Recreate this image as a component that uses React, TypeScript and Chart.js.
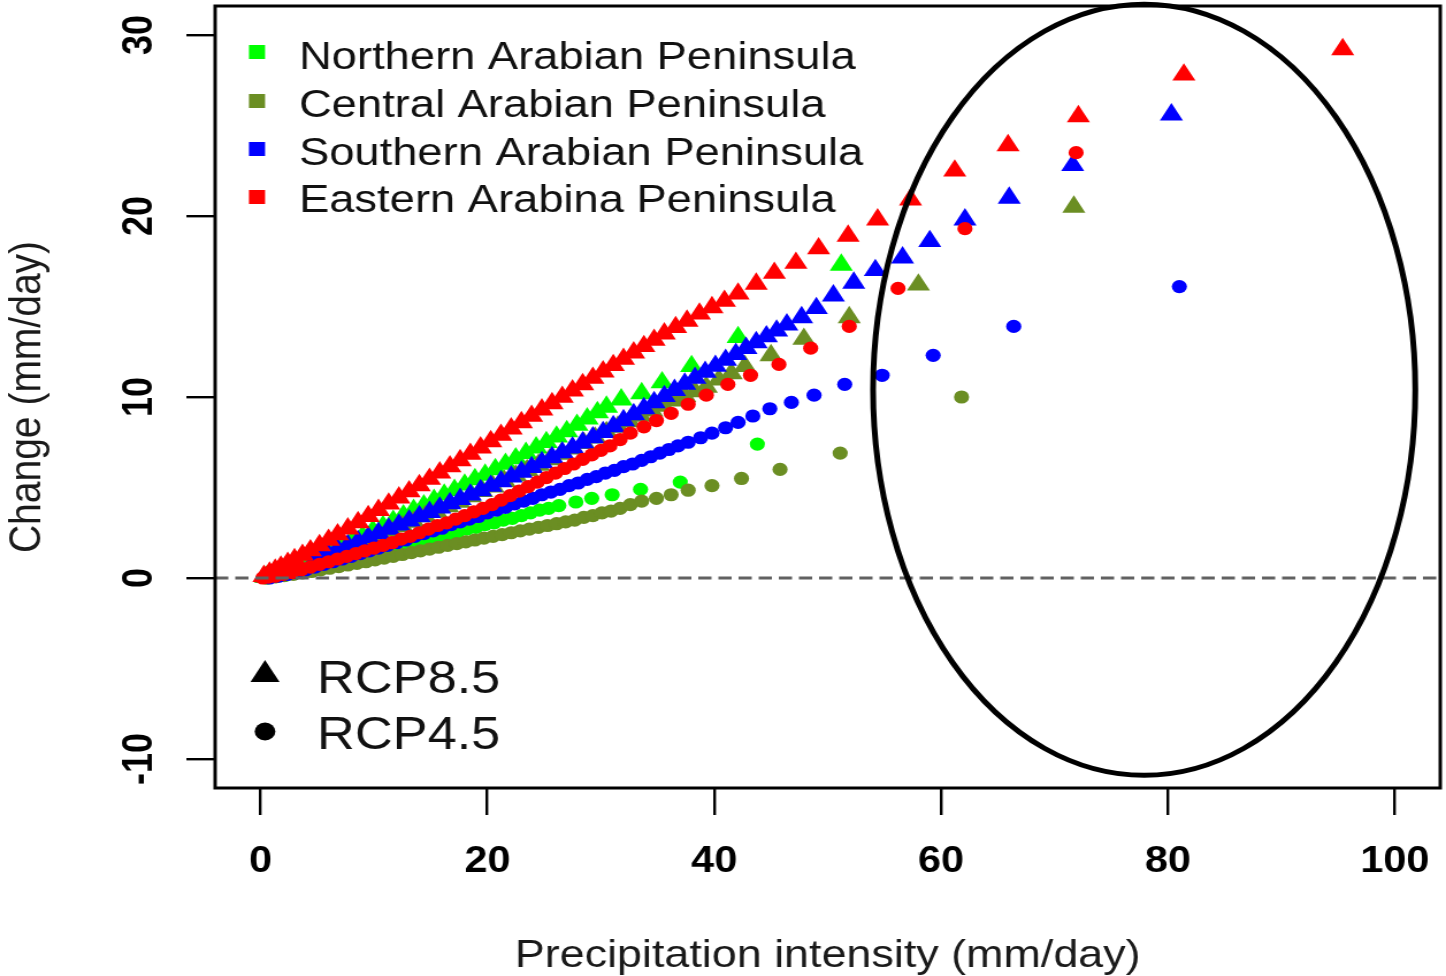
import React, { useEffect, useRef } from "react";
import { Chart, registerables } from "chart.js";

Chart.register(...registerables);

// ---------- data ----------
const X_TICKS = [0, 20, 40, 60, 80, 100];
const Y_TICKS = [-10, 0, 10, 20, 30];
const X_RANGE = [-4, 104];
const Y_RANGE = [-11.6, 31.6];

const REGIONS = [
  "Northern Arabian Peninsula",
  "Central Arabian Peninsula",
  "Southern Arabian Peninsula",
  "Eastern Arabina Peninsula",
];
const REGION_COLORS = ["#00FF00", "#6B8E23", "#0000FF", "#FF0000"];
const SCENARIOS = ["RCP8.5", "RCP4.5"];

const X_TITLE = "Precipitation intensity (mm/day)";
const Y_TITLE = "Change (mm/day)";

// Northern, RCP8.5 (triangles)
const N85_X = [0.5, 1.2, 2.0, 2.8, 3.6, 4.5, 5.4, 6.3, 7.2, 8.1, 9.0, 9.9, 10.8, 11.7, 12.6, 13.5, 14.4, 15.3, 16.2, 17.1, 18.0, 18.9, 19.8, 20.7, 21.6, 22.5, 23.4, 24.3, 25.2, 26.1, 27.0, 27.9, 28.8, 29.7, 30.5, 31.8, 33.6, 35.4, 38.0, 42.1, 51.2];
const N85_Y = [0.05, 0.15, 0.3, 0.5, 0.7, 0.95, 1.2, 1.5, 1.75, 2.05, 2.3, 2.6, 2.85, 3.15, 3.45, 3.75, 4.0, 4.3, 4.6, 4.85, 5.15, 5.45, 5.7, 6.0, 6.3, 6.6, 6.9, 7.2, 7.5, 7.8, 8.1, 8.45, 8.8, 9.15, 9.45, 9.85, 10.2, 10.8, 11.7, 13.3, 17.3];

// Northern, RCP4.5 (circles)
const N45_X = [0.6, 1.4, 2.2, 3.0, 3.8, 4.6, 5.4, 6.2, 7.0, 7.8, 8.6, 9.4, 10.2, 11.0, 11.8, 12.6, 13.4, 14.2, 15.0, 15.8, 16.6, 17.4, 18.2, 19.0, 19.8, 20.6, 21.4, 22.2, 23.0, 23.8, 24.6, 25.4, 26.3, 27.8, 29.2, 31.0, 33.5, 37.0, 43.8];
const N45_Y = [0.0, 0.08, 0.16, 0.25, 0.35, 0.45, 0.6, 0.7, 0.85, 0.95, 1.1, 1.2, 1.35, 1.5, 1.6, 1.75, 1.9, 2.0, 2.15, 2.3, 2.4, 2.55, 2.7, 2.8, 2.95, 3.05, 3.2, 3.3, 3.45, 3.6, 3.75, 3.85, 4.0, 4.2, 4.4, 4.6, 4.9, 5.3, 7.4];

// Central, RCP8.5 (triangles)
const C85_X = [0.5, 1.5, 2.5, 3.5, 4.5, 5.5, 6.5, 7.5, 8.5, 9.5, 10.5, 11.5, 12.5, 13.5, 14.5, 15.5, 16.5, 17.5, 18.5, 19.5, 20.5, 21.5, 22.5, 23.5, 24.5, 25.5, 26.5, 27.5, 28.5, 29.5, 30.5, 31.5, 32.5, 33.5, 34.5, 35.5, 36.5, 37.4, 38.3, 39.3, 40.4, 41.5, 42.7, 45.0, 47.9, 51.9, 58.0, 71.7];
const C85_Y = [0.05, 0.2, 0.4, 0.6, 0.85, 1.1, 1.35, 1.6, 1.85, 2.1, 2.35, 2.6, 2.85, 3.1, 3.4, 3.65, 3.95, 4.2, 4.5, 4.8, 5.05, 5.35, 5.65, 5.95, 6.25, 6.55, 6.85, 7.15, 7.45, 7.75, 8.05, 8.35, 8.65, 8.95, 9.25, 9.5, 9.8, 10.05, 10.3, 10.55, 10.95, 11.3, 11.7, 12.3, 13.2, 14.4, 16.2, 20.5];

// Central, RCP4.5 (circles)
const C45_X = [0.5, 1.3, 2.1, 2.9, 3.7, 4.5, 5.3, 6.1, 6.9, 7.7, 8.5, 9.3, 10.1, 10.9, 11.7, 12.5, 13.3, 14.1, 14.9, 15.7, 16.5, 17.3, 18.1, 18.9, 19.7, 20.5, 21.3, 22.1, 22.9, 23.7, 24.5, 25.3, 26.1, 26.9, 27.7, 28.5, 29.3, 30.1, 30.9, 31.7, 32.6, 33.6, 34.9, 36.2, 37.7, 39.8, 42.4, 45.8, 51.1, 61.8];
const C45_Y = [0.0, 0.06, 0.13, 0.2, 0.28, 0.36, 0.45, 0.54, 0.63, 0.72, 0.81, 0.9, 1.0, 1.1, 1.2, 1.3, 1.4, 1.5, 1.6, 1.7, 1.8, 1.9, 2.0, 2.1, 2.2, 2.3, 2.4, 2.5, 2.6, 2.7, 2.8, 2.9, 3.0, 3.1, 3.2, 3.35, 3.45, 3.6, 3.7, 3.85, 4.05, 4.25, 4.4, 4.6, 4.85, 5.1, 5.5, 6.0, 6.9, 10.0];

// Southern, RCP8.5 (triangles)
const S85_X = [5.0, 5.9, 6.8, 7.7, 8.6, 9.5, 10.4, 11.3, 12.2, 13.1, 14.0, 14.9, 15.8, 16.7, 17.6, 18.5, 19.4, 20.3, 21.2, 22.1, 23.0, 23.9, 24.8, 25.7, 26.6, 27.5, 28.4, 29.3, 30.2, 31.1, 32.0, 32.9, 33.8, 34.7, 35.6, 36.5, 37.4, 38.3, 39.2, 40.1, 41.0, 41.9, 42.8, 43.7, 44.6, 45.5, 46.4, 47.7, 49.0, 50.5, 52.3, 54.2, 56.6, 59.0, 62.1, 66.0, 71.6, 80.3];
const S85_Y = [1.15, 1.37, 1.59, 1.81, 2.03, 2.25, 2.48, 2.71, 2.94, 3.17, 3.4, 3.64, 3.88, 4.12, 4.36, 4.6, 4.84, 5.08, 5.34, 5.6, 5.86, 6.12, 6.39, 6.66, 6.93, 7.2, 7.48, 7.76, 8.05, 8.38, 8.71, 9.04, 9.37, 9.7, 10.04, 10.38, 10.72, 11.05, 11.38, 11.71, 12.04, 12.37, 12.7, 13.02, 13.34, 13.66, 14.0, 14.4, 14.9, 15.6, 16.3, 17.0, 17.7, 18.6, 19.8, 21.0, 22.8, 25.6];

// Southern, RCP4.5 (circles)
const S45_X = [0.8, 1.6, 2.4, 3.2, 4.0, 4.8, 5.6, 6.4, 7.2, 8.0, 8.8, 9.6, 10.4, 11.2, 12.0, 12.8, 13.6, 14.4, 15.2, 16.0, 16.8, 17.6, 18.4, 19.2, 20.0, 20.8, 21.6, 22.4, 23.2, 24.0, 24.8, 25.6, 26.4, 27.2, 28.0, 28.8, 29.6, 30.4, 31.2, 32.0, 32.8, 33.6, 34.4, 35.2, 36.0, 36.8, 37.7, 38.8, 39.8, 41.0, 42.1, 43.4, 44.9, 46.8, 48.8, 51.5, 54.8, 59.3, 66.4, 81.0];
const S45_Y = [0.0, 0.1, 0.2, 0.3, 0.45, 0.6, 0.75, 0.9, 1.05, 1.2, 1.35, 1.5, 1.65, 1.8, 1.95, 2.1, 2.3, 2.45, 2.6, 2.75, 2.95, 3.1, 3.25, 3.4, 3.6, 3.75, 3.9, 4.1, 4.25, 4.4, 4.6, 4.75, 4.9, 5.1, 5.25, 5.45, 5.6, 5.8, 5.95, 6.15, 6.3, 6.5, 6.7, 6.9, 7.1, 7.3, 7.5, 7.75, 8.0, 8.3, 8.6, 8.95, 9.35, 9.7, 10.1, 10.7, 11.2, 12.3, 13.9, 16.1];

// Eastern, RCP8.5 (triangles)
const E85_X = [0.3, 0.8, 1.3, 1.8, 2.4, 3.0, 3.7, 4.4, 5.2, 6.0, 6.8, 7.7, 8.6, 9.5, 10.4, 11.3, 12.2, 13.1, 14.0, 14.9, 15.8, 16.7, 17.6, 18.5, 19.4, 20.3, 21.2, 22.1, 23.0, 23.9, 24.8, 25.7, 26.6, 27.5, 28.4, 29.3, 30.2, 31.1, 32.0, 32.9, 33.8, 34.7, 35.6, 36.6, 37.6, 38.7, 39.8, 40.9, 42.1, 43.7, 45.3, 47.2, 49.2, 51.8, 54.4, 57.3, 61.2, 65.9, 72.1, 81.4, 95.4];
const E85_Y = [0.1, 0.28, 0.45, 0.62, 0.82, 1.03, 1.27, 1.52, 1.8, 2.1, 2.4, 2.73, 3.07, 3.41, 3.75, 4.1, 4.44, 4.78, 5.12, 5.47, 5.82, 6.16, 6.5, 6.85, 7.2, 7.55, 7.9, 8.25, 8.6, 8.95, 9.3, 9.65, 10.0, 10.35, 10.7, 11.05, 11.4, 11.75, 12.1, 12.45, 12.8, 13.15, 13.5, 13.85, 14.2, 14.6, 14.95, 15.3, 15.7, 16.25, 16.85, 17.4, 18.2, 18.9, 19.8, 20.9, 22.5, 23.9, 25.5, 27.8, 29.2];

// Eastern, RCP4.5 (circles)
const E45_X = [0.2, 0.7, 1.3, 2.0, 2.8, 3.6, 4.4, 5.2, 6.0, 6.8, 7.6, 8.4, 9.2, 10.0, 10.8, 11.6, 12.4, 13.2, 14.0, 14.8, 15.6, 16.4, 17.2, 18.0, 18.8, 19.6, 20.4, 21.2, 22.0, 22.8, 23.6, 24.4, 25.2, 26.0, 26.8, 27.6, 28.4, 29.2, 30.0, 30.8, 31.7, 32.6, 33.8, 34.9, 36.2, 37.7, 39.3, 41.2, 43.2, 45.7, 48.5, 51.9, 56.2, 62.1, 71.9];
const E45_Y = [0.0, 0.05, 0.1, 0.2, 0.3, 0.45, 0.6, 0.75, 0.9, 1.05, 1.2, 1.35, 1.5, 1.65, 1.8, 1.95, 2.15, 2.3, 2.5, 2.7, 2.9, 3.05, 3.25, 3.45, 3.65, 3.85, 4.05, 4.3, 4.55, 4.8, 5.05, 5.3, 5.55, 5.8, 6.05, 6.3, 6.55, 6.8, 7.05, 7.3, 7.65, 8.0, 8.35, 8.7, 9.1, 9.6, 10.1, 10.7, 11.2, 11.8, 12.7, 13.9, 16.0, 19.3, 23.5];

// highlighted region (ellipse) in data units
const ELLIPSE_CX = 77.9;
const ELLIPSE_CY = 10.4;
const ELLIPSE_RX = 23.9;
const ELLIPSE_RY = 21.3;

// ---------- presentation ----------
const CSS_W = 1446;
const CSS_H = 976;
const CANVAS_W = 1257; // drawn narrower, stretched horizontally like the reference
const SX = CSS_W / CANVAS_W;
const FONT = "'Liberation Sans', Arial, Helvetica, sans-serif";
const TRI_R = 11.6;
const CIR_R = 6.6;

const pts = (xs: number[], ys: number[]) => xs.map((x, i) => ({ x, y: ys[i] }));

const overlayPlugin = {
  id: "overlay",
  afterDatasetsDraw(chart: any) {
    const { ctx, chartArea: ca, scales } = chart;
    const xs = scales.x;
    const ys = scales.y;
    ctx.save();
    // dashed zero line
    const y0 = ys.getPixelForValue(0);
    ctx.setLineDash([11.5, 6]);
    ctx.strokeStyle = "#616161";
    ctx.lineWidth = 2.8;
    ctx.beginPath();
    ctx.moveTo(ca.left, y0);
    ctx.lineTo(ca.right, y0);
    ctx.stroke();
    ctx.setLineDash([]);

    // box
    ctx.strokeStyle = "#000";
    ctx.lineWidth = 3;
    ctx.strokeRect(ca.left, ca.top, ca.right - ca.left, ca.bottom - ca.top);

    // region legend
    ctx.font = `39.4px ${FONT}`;
    ctx.textBaseline = "alphabetic";
    ctx.textAlign = "left";
    const sqX = 257 / SX;
    const txX = 299 / SX;
    const rowY = [52, 101, 149, 197];
    const baseY = [69, 116.5, 164.5, 212];
    REGIONS.forEach((name, i) => {
      ctx.fillStyle = REGION_COLORS[i];
      ctx.fillRect(sqX - 7, rowY[i] - 7, 14, 14);
      ctx.fillStyle = "#111";
      ctx.fillText(name, txX, baseY[i]);
    });

    // scenario legend
    const mx = 265 / SX;
    ctx.fillStyle = "#000";
    const ty = 674.6;
    const r = 14.6;
    ctx.beginPath();
    ctx.moveTo(mx, ty - r);
    ctx.lineTo(mx + Math.sin((2 * Math.PI) / 3) * r, ty + r / 2);
    ctx.lineTo(mx - Math.sin((2 * Math.PI) / 3) * r, ty + r / 2);
    ctx.closePath();
    ctx.fill();
    ctx.beginPath();
    ctx.arc(mx, 731.5, 9, 0, Math.PI * 2);
    ctx.fill();
    ctx.font = `45.5px ${FONT}`;
    ctx.fillStyle = "#111";
    ctx.fillText(SCENARIOS[0], 317 / SX, 692.5);
    ctx.fillText(SCENARIOS[1], 317 / SX, 749);

    // ellipse highlight
    const cx = xs.getPixelForValue(ELLIPSE_CX);
    const cy = ys.getPixelForValue(ELLIPSE_CY);
    const rx = Math.abs(xs.getPixelForValue(ELLIPSE_CX + ELLIPSE_RX) - cx);
    const ry = Math.abs(ys.getPixelForValue(ELLIPSE_CY + ELLIPSE_RY) - cy);
    ctx.strokeStyle = "#000";
    ctx.lineWidth = 5;
    ctx.beginPath();
    ctx.ellipse(cx, cy, rx, ry, 0, 0, Math.PI * 2);
    ctx.stroke();
    ctx.restore();
  },
};

export default function App() {
  const ref = useRef<HTMLCanvasElement | null>(null);

  useEffect(() => {
    if (!ref.current) return;
    const mk = (xs: number[], ys: number[], color: string, tri: boolean, order: number) => ({
      data: pts(xs, ys),
      pointStyle: tri ? "triangle" : "circle",
      pointRadius: tri ? TRI_R : CIR_R,
      pointBackgroundColor: color,
      pointBorderWidth: 0,
      borderWidth: 0,
      showLine: false,
      order,
    });
    const chart = new Chart(ref.current, {
      type: "scatter",
      data: {
        datasets: [
          mk(N85_X, N85_Y, REGION_COLORS[0], true, 7),
          mk(N45_X, N45_Y, REGION_COLORS[0], false, 6),
          mk(C85_X, C85_Y, REGION_COLORS[1], true, 5),
          mk(C45_X, C45_Y, REGION_COLORS[1], false, 4),
          mk(S85_X, S85_Y, REGION_COLORS[2], true, 3),
          mk(S45_X, S45_Y, REGION_COLORS[2], false, 2),
          mk(E85_X, E85_Y, REGION_COLORS[3], true, 1),
          mk(E45_X, E45_Y, REGION_COLORS[3], false, 0),
        ] as any,
      },
      options: {
        responsive: false,
        animation: false,
        devicePixelRatio: 1,
        events: [],
        layout: { autoPadding: false, padding: { top: 6, right: 5, left: 0, bottom: 0 } },
        plugins: { legend: { display: false }, tooltip: { enabled: false } },
        scales: {
          x: {
            type: "linear",
            min: X_RANGE[0],
            max: X_RANGE[1],
            afterBuildTicks: (s: any) => {
              s.ticks = X_TICKS.map((v) => ({ value: v }));
            },
            afterFit: (s: any) => {
              s.height = 188;
              s.paddingLeft = 0;
              s.paddingRight = 0;
              s.paddingTop = 0;
              s.paddingBottom = 0;
            },
            border: { display: false },
            grid: { drawOnChartArea: false, drawTicks: true, tickLength: 27, color: "#000", lineWidth: 2.4 },
            ticks: {
              autoSkip: false,
              minRotation: 0,
              maxRotation: 0,
              padding: 25,
              color: "#000",
              font: { family: FONT, size: 36, weight: "bold" },
            },
            title: {
              display: true,
              text: X_TITLE,
              color: "#1a1a1a",
              font: { family: FONT, size: 39, lineHeight: 1 },
              padding: 0,
            },
          },
          y: {
            type: "linear",
            min: Y_RANGE[0],
            max: Y_RANGE[1],
            afterBuildTicks: (s: any) => {
              s.ticks = Y_TICKS.map((v) => ({ value: v }));
            },
            afterFit: (s: any) => {
              s.width = 187;
              s.paddingLeft = 0;
              s.paddingRight = 0;
              s.paddingTop = 0;
              s.paddingBottom = 0;
            },
            border: { display: false },
            grid: { drawOnChartArea: false, drawTicks: true, tickLength: 25, color: "#000", lineWidth: 2.4 },
            ticks: {
              autoSkip: false,
              minRotation: 90,
              maxRotation: 90,
              crossAlign: "center",
              padding: 13.6,
              color: "#000",
              font: { family: FONT, size: 36, weight: "bold" },
            },
            title: {
              display: true,
              text: Y_TITLE,
              color: "#1a1a1a",
              font: { family: FONT, size: 39, lineHeight: 1.2 },
              padding: { top: 1, bottom: 0 },
            },
          },
        },
      } as any,
      plugins: [overlayPlugin],
    });
    return () => chart.destroy();
  }, []);

  return (
    <div style={{ position: "fixed", left: 0, top: 0, width: CSS_W, height: CSS_H, background: "#fff", overflow: "hidden" }}>
      <canvas
        ref={ref}
        width={CANVAS_W}
        height={CSS_H}
        style={{ width: `${CSS_W}px`, height: `${CSS_H}px`, display: "block" }}
      />
    </div>
  );
}
